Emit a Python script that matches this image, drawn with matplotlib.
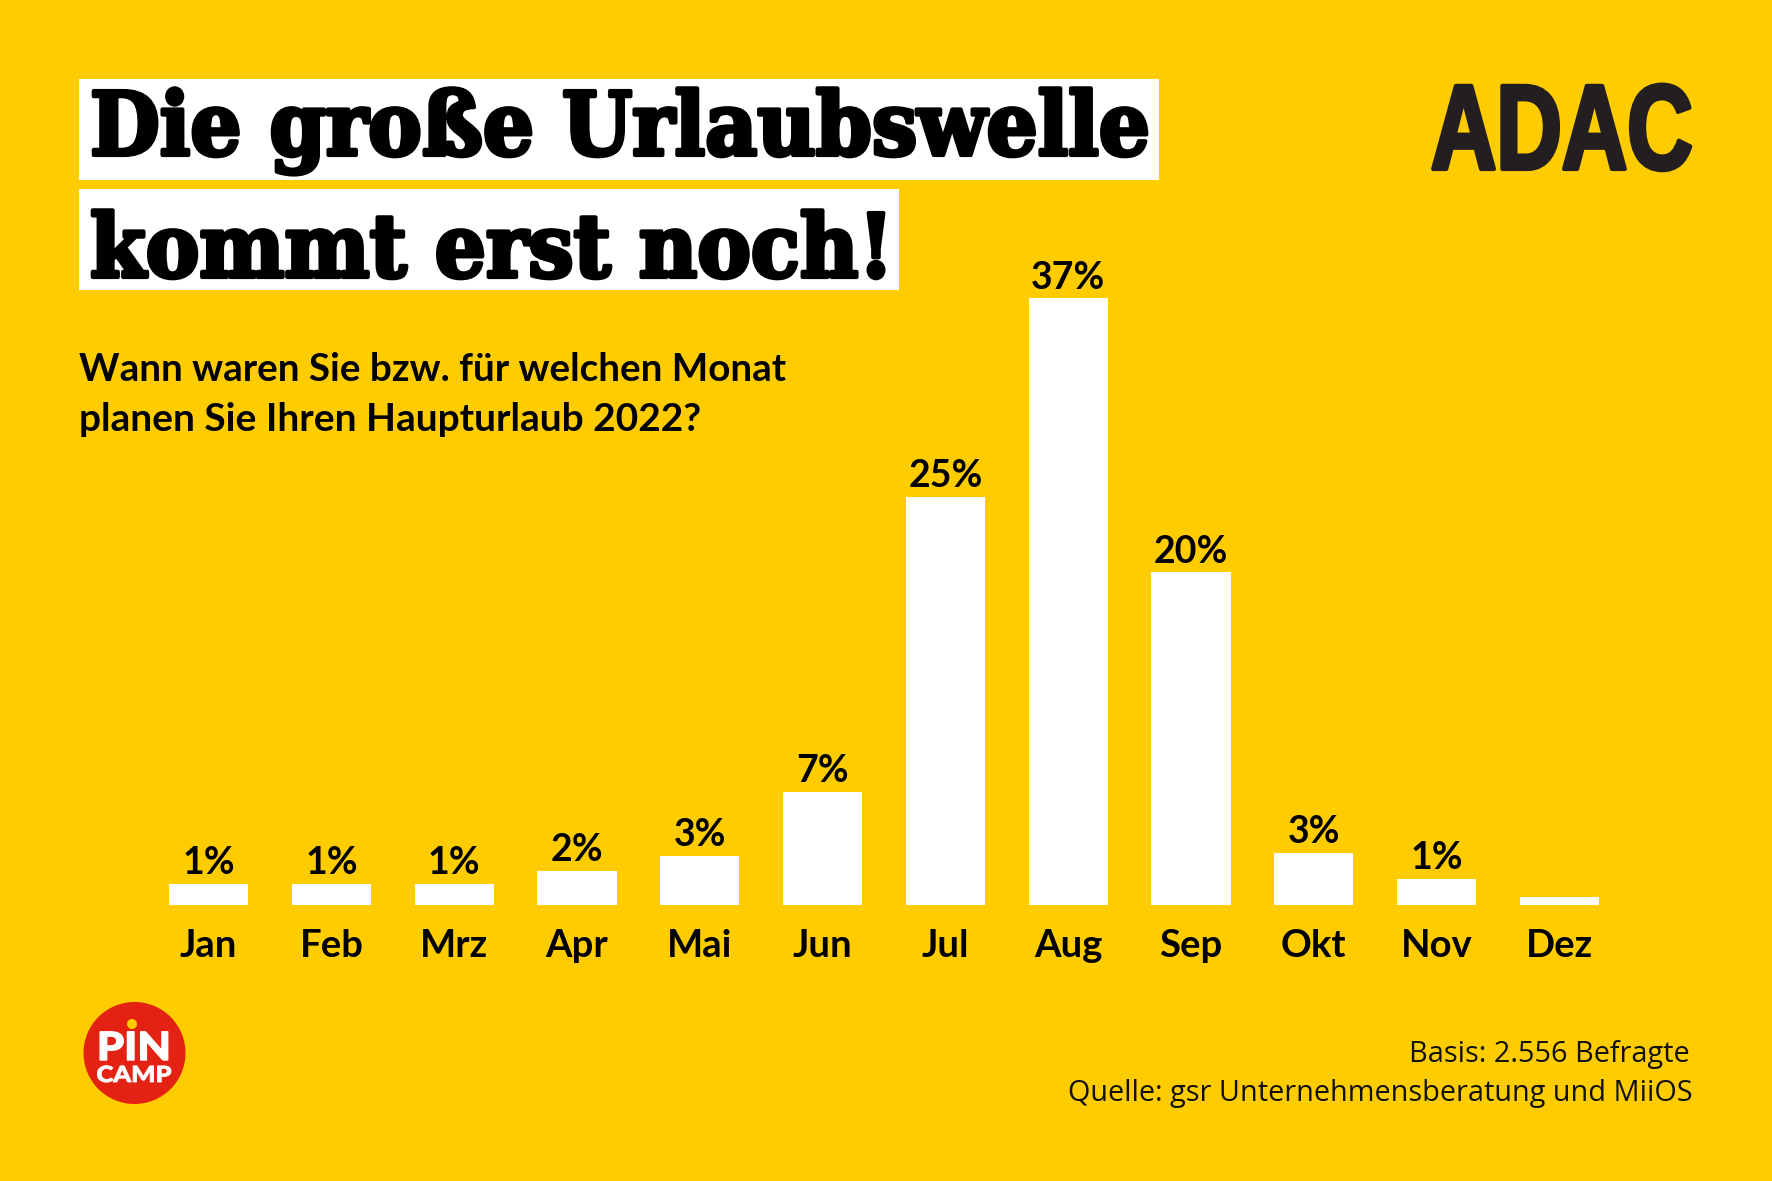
import matplotlib
matplotlib.use("Agg")
import matplotlib.pyplot as plt
import matplotlib.patheffects as pe
from matplotlib.patches import Rectangle, Circle
from matplotlib.transforms import Affine2D

# values, labels as printed above them
months = ["Jan", "Feb", "Mrz", "Apr", "Mai", "Jun", "Jul", "Aug", "Sep", "Okt", "Nov", "Dez"]
heights = [1.3, 1.3, 1.3, 2.1, 3.0, 6.9, 24.9, 37.0, 20.3, 3.2, 1.6, 0.5]
labels = ["1%", "1%", "1%", "2%", "3%", "7%", "25%", "37%", "20%", "3%", "1%", ""]

title_lines = ["Die große Urlaubswelle", "kommt erst noch!"]
question = ["Wann waren Sie bzw. für welchen Monat", "planen Sie Ihren Haupturlaub 2022?"]
source = ["Basis: 2.556 Befragte", "Quelle: gsr Unternehmensberatung und MiiOS"]

YELLOW = "#FFCC00"
W, H = 1772, 1181
LABEL_FONT = ["Lato", "Open Sans", "DejaVu Sans"]


class Squeeze(pe.AbstractPathEffect):
    # stretch glyphs around an anchor, no condensed/slab fonts available here
    def __init__(self, x, y, sx, sy, stroke):
        super().__init__()
        self.anchor = (x, H - y)
        self.sx, self.sy = sx, sy
        self.stroke = stroke

    def draw_path(self, renderer, gc, tpath, affine, rgbFace=None):
        ax, ay = self.anchor
        extra = Affine2D().translate(-ax, -ay).scale(self.sx, self.sy).translate(ax, ay)
        gc0 = renderer.new_gc()
        gc0.copy_properties(gc)
        gc0.set_linewidth(self.stroke)
        gc0.set_foreground(rgbFace)
        renderer.draw_path(gc0, tpath, affine + extra, rgbFace)
        gc0.restore()


fig = plt.figure(figsize=(W / 100, H / 100), dpi=100, facecolor=YELLOW)

# pixel overlay for title, logos and notes
bg = fig.add_axes([0, 0, 1, 1])
bg.set_xlim(0, W)
bg.set_ylim(H, 0)
bg.axis("off")

bg.add_patch(Rectangle((79, 79), 1080, 101, fc="white", ec="none"))
bg.add_patch(Rectangle((79, 189), 820, 101, fc="white", ec="none"))
bg.text(90, 155, title_lines[0], fontsize=58.5, family="DejaVu Serif", weight="bold",
        color="black", path_effects=[Squeeze(90, 155, 0.99, 1.08, 3)])
bg.text(90, 277, title_lines[1], fontsize=58.5, family="DejaVu Serif", weight="bold",
        color="black", path_effects=[Squeeze(90, 277, 0.99, 1.08, 3)])

bg.text(79, 381, question[0], fontsize=27.8, family=LABEL_FONT, weight="bold", color="black")
bg.text(79, 431, question[1], fontsize=28, family=LABEL_FONT, weight="bold", color="black")

# ADAC logo
bg.text(1693, 169, "ADAC", fontsize=87, family="Liberation Sans", weight="bold", ha="right",
        color="#231F20", path_effects=[Squeeze(1692, 169, 0.75, 1.0, 3)])

# Pincamp logo
bg.add_patch(Circle((134.5, 1053), 51, fc="#E32213", ec="none"))
bg.add_patch(Circle((132, 1024), 5, fc=YELLOW, ec="none"))
bg.text(134, 1060, "PIN", fontsize=28, family="Lato", weight="black", ha="center", color="white",
        path_effects=[Squeeze(134, 1060, 1.12, 1.0, 1)])
bg.text(134, 1082, "CAMP", fontsize=16, family="Lato", weight="black", ha="center", color="white",
        path_effects=[Squeeze(134, 1082, 1.15, 1.0, 0.6)])

bg.text(1690, 1062, source[0], fontsize=20.8, family="Open Sans", ha="right", color="#111111")
bg.text(1693, 1101, source[1], fontsize=20.8, family="Open Sans", ha="right", color="#111111")

# bar chart
left, step, base, unit = 147.2, 122.8, 905, 16.4
ax = fig.add_axes([left / W, (H - base) / H, 12 * step / W, 40 * unit / H])
ax.patch.set_alpha(0)
ax.set_xlim(-0.5, 11.5)
ax.set_ylim(0, 40)
xs = list(range(len(months)))
bars = ax.bar(xs, heights, width=0.645, color="white", linewidth=0)
for bar, lab in zip(bars, labels):
    ax.annotate(lab, (bar.get_x() + bar.get_width() / 2, bar.get_height()),
                xytext=(0, 2.5), textcoords="offset points", ha="center", va="bottom",
                fontsize=27, family=LABEL_FONT, weight="bold", color="black")
ax.set_xticks(xs, months)
ax.set_yticks([])
ax.tick_params(axis="x", length=0, pad=17)
for t in ax.get_xticklabels():
    t.set_fontsize(27.5)
    t.set_family(LABEL_FONT)
    t.set_weight("bold")
for s in ax.spines.values():
    s.set_visible(False)

fig.savefig("out.png", dpi=100, facecolor=YELLOW)
